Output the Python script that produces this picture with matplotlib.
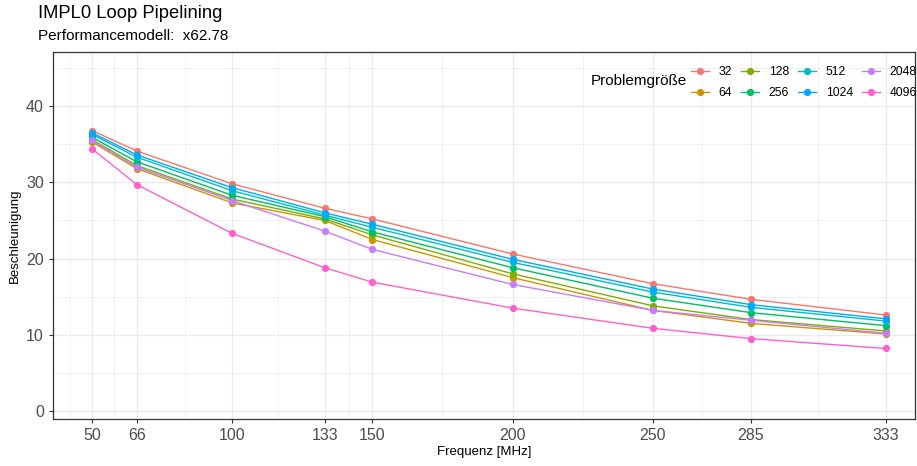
import numpy as np
import matplotlib
matplotlib.use("Agg")
import matplotlib.pyplot as plt

plt.rcParams['font.family'] = ['Liberation Sans', 'DejaVu Sans']

# data
freq = [50, 66, 100, 133, 150, 200, 250, 285, 333]
sizes = ['32', '64', '128', '256', '512', '1024', '2048', '4096']
speedup = {
    '32':   [36.8, 34.1, 29.8, 26.6, 25.2, 20.6, 16.7, 14.65, 12.6],
    '64':   [35.3, 31.8, 27.3, 25.0, 22.5, 17.5, 13.2, 11.5, 10.1],
    '128':  [35.6, 32.2, 27.8, 25.2, 23.1, 18.0, 13.8, 12.0, 10.5],
    '256':  [35.9, 32.7, 28.3, 25.5, 23.5, 18.8, 14.8, 12.9, 11.2],
    '512':  [36.3, 33.3, 28.9, 25.7, 24.1, 19.5, 15.6, 13.6, 11.8],
    '1024': [36.5, 33.6, 29.3, 26.0, 24.5, 19.9, 16.0, 13.95, 12.1],
    '2048': [35.5, 32.0, 27.6, 23.6, 21.2, 16.6, 13.2, 11.9, 10.2],
    '4096': [34.4, 29.7, 23.3, 18.8, 16.9, 13.5, 10.85, 9.5, 8.2],
}
colors = ['#F8766D', '#CD9600', '#7CAE00', '#00BE67',
          '#00BFC4', '#00A9FF', '#C77CFF', '#FF61CC']

fig = plt.figure(figsize=(9.17, 4.66), dpi=100)
ax = fig.add_axes([53/917, 1-419/466, (915-53)/917, (419-52)/466])

for s, c in zip(sizes, colors):
    ax.plot(freq, speedup[s], color=c, lw=1.0, marker='o', ms=4.2, label=s)

ax.set_xlim(36.1, 343.5)
ax.set_ylim(-1.05, 47.1)
ax.set_xticks(freq)
ax.set_xticks([42, 58, 83, 116.5, 141.5, 175, 225, 267.5, 309], minor=True)
ax.set_yticks([0, 10, 20, 30, 40])
ax.set_yticks([5, 15, 25, 35, 45], minor=True)
ax.grid(which='major', color='#EBEBEB', lw=1.0)
ax.grid(which='minor', color='#EBEBEB', lw=0.5)
ax.set_axisbelow(True)
ax.tick_params(which='major', length=3, color='#333333', labelsize=11.5,
               labelcolor='#4D4D4D', width=0.8)
ax.tick_params(which='minor', length=0)
for sp in ax.spines.values():
    sp.set_color('#333333')
    sp.set_linewidth(0.9)

ax.set_xlabel('Frequenz [MHz]', fontsize=9.5, labelpad=2)
ax.set_ylabel('Beschleunigung', fontsize=9.5, labelpad=4)

fig.text(38/917, 1-14/466, 'IMPL0 Loop Pipelining', fontsize=13.2, va='center')
fig.text(38/917, 1-36/466, 'Performancemodell:  x62.78', fontsize=11, va='center')

leg = ax.legend(ncol=4, loc='upper right', bbox_to_anchor=(1.012, 0.985),
                frameon=False, fontsize=8.8, handlelength=1.45,
                columnspacing=0.75, handletextpad=0.8, labelspacing=0.75,
                borderaxespad=0.3)
fig.text(591/917, 1-81/466, 'Problemgröße', fontsize=11, va='center')

fig.savefig('out.png', dpi=100)
